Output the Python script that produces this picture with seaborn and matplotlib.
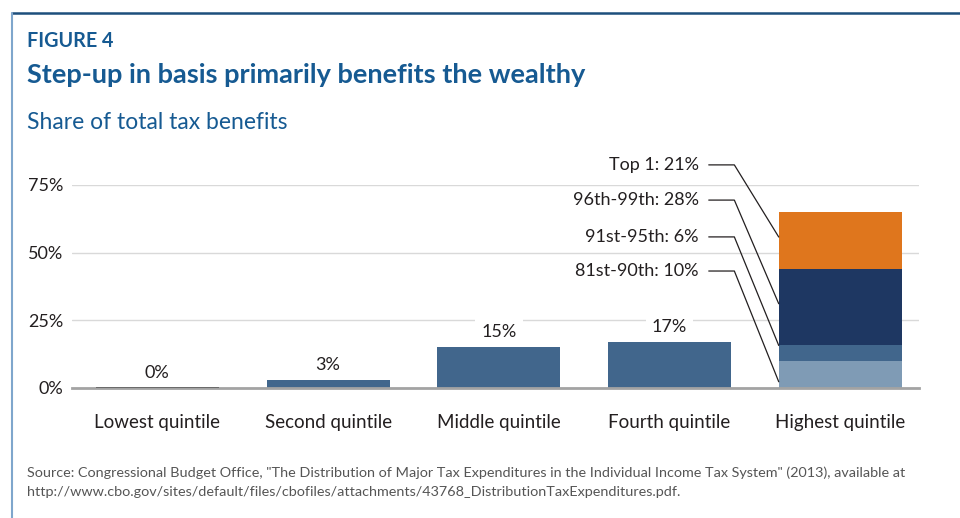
import matplotlib
matplotlib.use("Agg")
import matplotlib.pyplot as plt
from matplotlib.lines import Line2D
import seaborn as sns
import numpy as np
import pandas as pd

# Quintile shares of total tax benefits (%)
categories = ["Lowest quintile", "Second quintile", "Middle quintile",
              "Fourth quintile", "Highest quintile"]
quintile_share = [0, 3, 15, 17]

# Breakdown of the highest quintile, bottom to top (%)
top_groups = ["81st-90th", "91st-95th", "96th-99th", "Top 1"]
top_shares = [10, 6, 28, 21]

yticks = [0, 25, 50, 75]

BAR = "#41668c"
TOP_COLORS = ["#7f9bb5", "#41668c", "#1e3762", "#df761d"]
BLUE = "#165a92"
TEXT = "#231f20"

sns.set_theme(style="white")
plt.rcParams["font.family"] = ["Lato", "DejaVu Sans"]

fig = plt.figure(figsize=(9.6, 5.18), dpi=100)
ax = fig.add_axes([0.075, 0.251, 0.882, 0.392])

# Single bars for the lower four quintiles
df = pd.DataFrame({"group": categories[:4], "share": quintile_share})
sns.barplot(data=df, x="group", y="share", order=categories, color=BAR,
            width=0.72, saturation=1, ax=ax, errorbar=None, linewidth=0)

# Stacked highest quintile: draw cumulative totals from tallest down
cum = np.cumsum(top_shares)
for level, col in zip(cum[::-1], TOP_COLORS[::-1]):
    sns.barplot(x=[categories[4]], y=[level], order=categories, color=col,
                width=0.72, saturation=1, ax=ax, errorbar=None, linewidth=0)

# A zero-height bar still shows as a thin rule on the baseline
for p in ax.patches:
    if p.get_height() == 0:
        p.set_edgecolor("#5e5e5e")
        p.set_linewidth(1.2)
        p.set_zorder(3)

ax.set_xlim(-0.5, 4.46)
ax.set_ylim(0, 75)
ax.set_yticks(yticks)
ax.set_yticklabels([f"{t}%" for t in yticks])
ax.set_xlabel("")
ax.set_ylabel("")
ax.yaxis.grid(True, color="#d9d9d9", lw=1)
ax.set_axisbelow(True)
for s in ["top", "right", "left"]:
    ax.spines[s].set_visible(False)
ax.spines["bottom"].set_color("#a3a3a3")
ax.spines["bottom"].set_linewidth(2)
ax.tick_params(axis="y", length=0, pad=6, labelsize=13, labelcolor=TEXT)
ax.tick_params(axis="x", length=0, pad=19, labelsize=13.5, labelcolor=TEXT)

# Value labels over the single bars
for i, v in enumerate(quintile_share):
    ax.text(i, v + 2.6, f"{v}%", ha="center", va="bottom", fontsize=13,
            color=TEXT, bbox=dict(boxstyle="square,pad=0.35", fc="white",
                                  ec="none"))

# Leader lines from labels to each segment of the highest quintile
label_y = [43.2, 55.8, 69.4, 82.4]
anchor_frac = [0.23, 0.95, 0.54, 0.56]
bar_left = 4 - 0.36
bottoms = np.concatenate([[0], cum[:-1]])
for name, share, ly, bot, fr in zip(top_groups, top_shares, label_y,
                                    bottoms, anchor_frac):
    ax.text(3.17, ly, f"{name}: {share}%", ha="right", va="center",
            fontsize=13, color=TEXT, clip_on=False)
    target = bot + share * fr
    ax.add_line(Line2D([3.23, 3.38, bar_left], [ly, ly, target],
                       color="#231f20", lw=0.9, clip_on=False))

# Titles and source note
fig.text(27 / 960, 1 - 47 / 518, "FIGURE 4", fontsize=14.2,
         fontweight="bold", color=BLUE, va="baseline")
fig.text(27 / 960, 1 - 83 / 518,
         "Step-up in basis primarily benefits the wealthy", fontsize=19.5,
         fontweight="bold", color=BLUE, va="baseline")
fig.text(27 / 960, 1 - 129 / 518, "Share of total tax benefits",
         fontsize=16.5, color=BLUE, va="baseline")
fig.text(27 / 960, 1 - 477 / 518,
         'Source: Congressional Budget Office, "The Distribution of Major Tax '
         'Expenditures in the Individual Income Tax System" (2013), available at',
         fontsize=10.4, color="#555555", va="baseline")
fig.text(27 / 960, 1 - 496 / 518,
         "http://www.cbo.gov/sites/default/files/cbofiles/attachments/"
         "43768_DistributionTaxExpenditures.pdf.",
         fontsize=10.4, color="#555555", va="baseline")

# Frame rules along the top and left edges
fig.add_artist(Line2D([12 / 960, 1], [1 - 13 / 518, 1 - 13 / 518],
                      color="#1d4f7c", lw=1.8))
fig.add_artist(Line2D([12 / 960, 12 / 960], [0, 1 - 13 / 518],
                      color="#7fa6cc", lw=1.5))

fig.savefig("out.png", dpi=100)
